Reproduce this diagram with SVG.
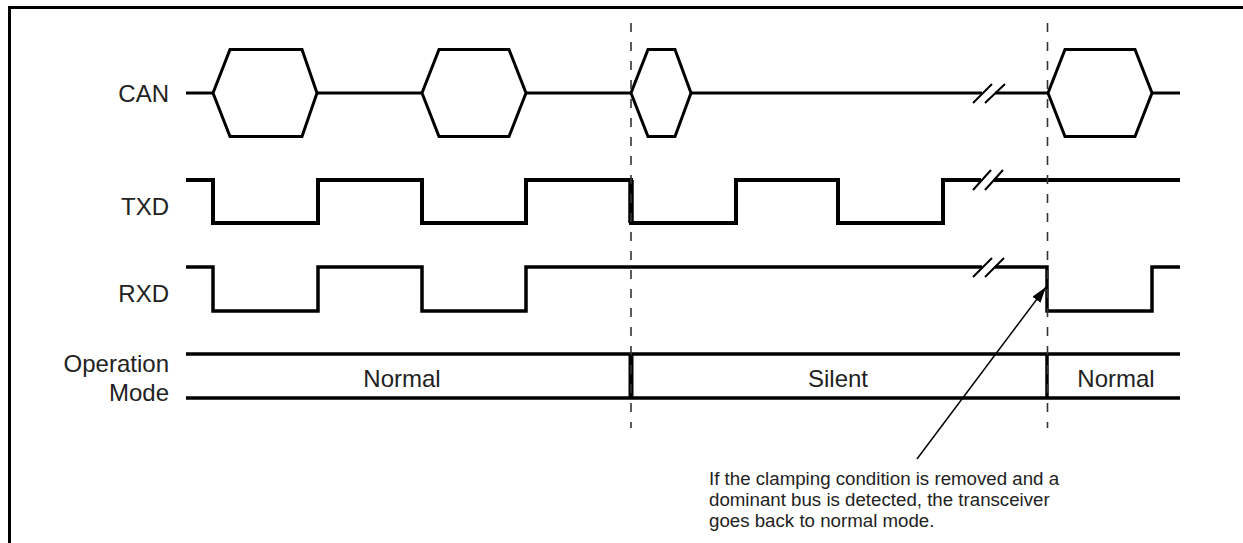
<svg xmlns="http://www.w3.org/2000/svg" width="1243" height="543" viewBox="0 0 1243 543">
<defs>
<style>
.sig{fill:none;stroke:#000;stroke-linejoin:miter;stroke-linecap:butt}
.can{stroke-width:3}
.txd{stroke-width:4}
.rxd{stroke-width:3.5}
.mode{stroke-width:3.5}
.dash{fill:none;stroke:#333;stroke-width:1.6;stroke-dasharray:9 10}
.brk{fill:none;stroke:#000;stroke-width:2}
.lbl{font-family:"Liberation Sans",Arial,sans-serif;font-size:24px;fill:#222}
.note{font-family:"Liberation Sans",Arial,sans-serif;font-size:18.7px;fill:#222}
</style>
<marker id="ah" viewBox="0 0 16 10" refX="16" refY="5" markerWidth="16" markerHeight="10" markerUnits="userSpaceOnUse" orient="auto">
<path d="M0,0 L16,5 L0,10 z" fill="#000"/>
</marker>
</defs>
<rect x="0" y="0" width="1243" height="543" fill="#fff"/>
<path d="M9.5,545 V7.5 H1245" fill="none" stroke="#000" stroke-width="3"/>

<g id="labels">
<text class="lbl" x="169" y="102" text-anchor="end">CAN</text>
<text class="lbl" x="169" y="215" text-anchor="end">TXD</text>
<text class="lbl" x="169" y="302" text-anchor="end">RXD</text>
<text class="lbl" x="169" y="372" text-anchor="end">Operation</text>
<text class="lbl" x="169" y="401" text-anchor="end">Mode</text>
</g>

<g id="can">
<path class="sig can" d="M186,93 H213 L230,49.5 H302 L317,93 L302,136.5 H230 L213,93"/>
<path class="sig can" d="M317,93 H422 L439,49.5 H509 L526,93 L509,136.5 H439 L422,93"/>
<path class="sig can" d="M526,93 H631 L648,49.5 H675 L691,93 L675,136.5 H648 L631,93"/>
<path class="sig can" d="M691,93 H982"/>
<path class="sig can" d="M995,93 H1048 L1065,49.5 H1135 L1152,93 L1135,136.5 H1065 L1048,93"/>
<path class="sig can" d="M1152,93 H1180"/>
<path class="brk" d="M973,103 L992,84 M985,103 L1005,84"/>
</g>

<g id="txd">
<path class="sig txd" d="M186,180 H213 V223 H318 V180 H422 V223 H526 V180 H631 V223 H736 V180 H838 V223 H943 V180 H981"/>
<path class="sig txd" d="M994,180 H1180"/>
<path class="sig" stroke-width="5.5" d="M631,180 V223"/>
<path class="brk" d="M973,190 L991,170 M985,190 L1003,170"/>
</g>

<g id="rxd">
<path class="sig rxd" d="M186,267 H213 V311 H318 V267 H422 V311 H526 V267 H982"/>
<path class="sig rxd" d="M995,267 H1047 V311 H1152 V267 H1180"/>
<path class="brk" d="M973,277 L992,258 M985,277 L1004,258"/>
</g>

<g id="mode">
<path class="sig mode" d="M186,354 H1180 M186,398 H1180"/>
<path class="sig" stroke-width="5" d="M631,354 V398"/>
<path class="sig mode" d="M1047,354 V398"/>
<text class="lbl" x="402" y="387" text-anchor="middle">Normal</text>
<text class="lbl" x="838" y="387" text-anchor="middle">Silent</text>
<text class="lbl" x="1116" y="387" text-anchor="middle">Normal</text>
</g>

<g id="connectors">
<path class="dash" d="M631,23 V428"/>
<path class="dash" d="M1047.5,23 V428"/>
<path d="M917,459 L1046,287" fill="none" stroke="#000" stroke-width="1.5" marker-end="url(#ah)"/>
</g>

<g id="note">
<text class="note" x="709" y="485">If the clamping condition is removed and a</text>
<text class="note" x="709" y="506">dominant bus is detected, the transceiver</text>
<text class="note" x="709" y="527">goes back to normal mode.</text>
</g>
</svg>
